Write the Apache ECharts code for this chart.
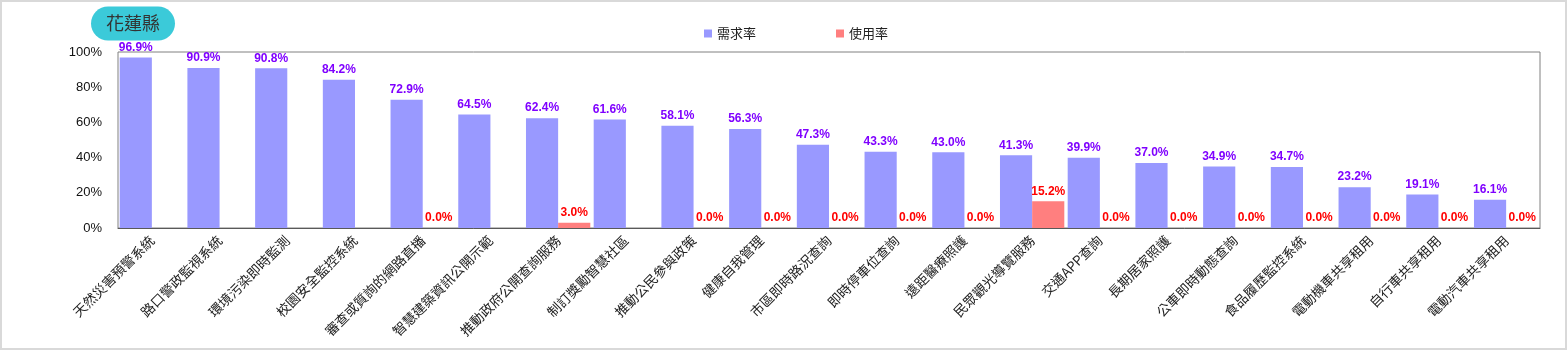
<!DOCTYPE html>
<html>
<head>
<meta charset="utf-8">
<script src="https://cdn.jsdelivr.net/npm/echarts@6/dist/echarts.min.js"></script>
<style>
html,body{margin:0;padding:0;background:#fff;}
#c{width:1567px;height:352px;}
</style>
</head>
<body>
<div id="c"></div>
<script>
const categories = ['天然災害預警系統','路口警政監視系統','環境污染即時監測','校園安全監控系統','審查或質詢的網路直播','智慧建築資訊公開示範','推動政府公開查詢服務','制訂獎勵智慧社區','推動公民參與政策','健康自我管理','市區即時路況查詢','即時停車位查詢','遠距醫療照護','民眾觀光導覽服務','交通APP查詢','長期居家照護','公車即時動態查詢','食品履歷監控系統','電動機車共享租用','自行車共享租用','電動汽車共享租用'];
const needRate = [96.9,90.9,90.8,84.2,72.9,64.5,62.4,61.6,58.1,56.3,47.3,43.3,43.0,41.3,39.9,37.0,34.9,34.7,23.2,19.1,16.1];
const useRate = [null,null,null,null,0.0,null,3.0,null,0.0,0.0,0.0,0.0,0.0,15.2,0.0,0.0,0.0,0.0,0.0,0.0,0.0];
const seriesNames = ['需求率','使用率'];
const titleText = '花蓮縣';

const chart = echarts.init(document.getElementById('c'));
const font = '"Liberation Sans","Noto Sans CJK TC",sans-serif';
chart.setOption({
  animation:false,
  textStyle:{fontFamily:font},
  title:{
    text:titleText, left:91, top:7,
    backgroundColor:'#3BCAD9', borderRadius:17, padding:[8,15],
    textStyle:{fontSize:18, lineHeight:17, fontWeight:'normal', color:'#333', fontFamily:'"Noto Sans CJK TC",sans-serif'}
  },
  legend:{
    left:699, top:22, itemWidth:8, itemHeight:8, itemGap:80, icon:'rect',
    textStyle:{fontSize:13, color:'#222', fontFamily:'"Noto Sans CJK TC",sans-serif'},
    data:seriesNames
  },
  graphic:[{type:'rect', shape:{x:1,y:1,width:1565,height:348}, style:{fill:'none', stroke:'#d9d9d9', lineWidth:2}, silent:true}],
  grid:{left:118, right:27, top:52, bottom:124, show:true, borderColor:'#808080', borderWidth:1, containLabel:false},
  xAxis:{
    type:'category', data:categories,
    axisLine:{lineStyle:{color:'#595959', width:1}},
    axisTick:{show:false},
    axisLabel:{rotate:45, fontSize:13.5, color:'#222', margin:10, interval:0, fontFamily:'"Noto Sans CJK TC",sans-serif'}
  },
  yAxis:{
    type:'value', min:0, max:100, interval:20,
    axisLine:{show:false}, axisTick:{show:false}, splitLine:{show:false},
    axisLabel:{formatter:'{value}%', fontSize:13, color:'#111', margin:16}
  },
  series:[
    {name:seriesNames[0], type:'bar', data:needRate, barGap:0, barCategoryGap:'5%',
     itemStyle:{color:'#9999FF'},
     label:{show:true, position:'top', distance:4, formatter:p=>p.value.toFixed(1)+'%', color:'#7F00FF', fontWeight:'bold', fontSize:12}},
    {name:seriesNames[1], type:'bar', data:useRate, barGap:0, barCategoryGap:'5%',
     itemStyle:{color:'#FF7F7F'},
     label:{show:true, position:'top', distance:4, formatter:p=>p.value==null?'':p.value.toFixed(1)+'%', color:'#FF0000', fontWeight:'bold', fontSize:12}}
  ]
});
</script>
</body>
</html>
